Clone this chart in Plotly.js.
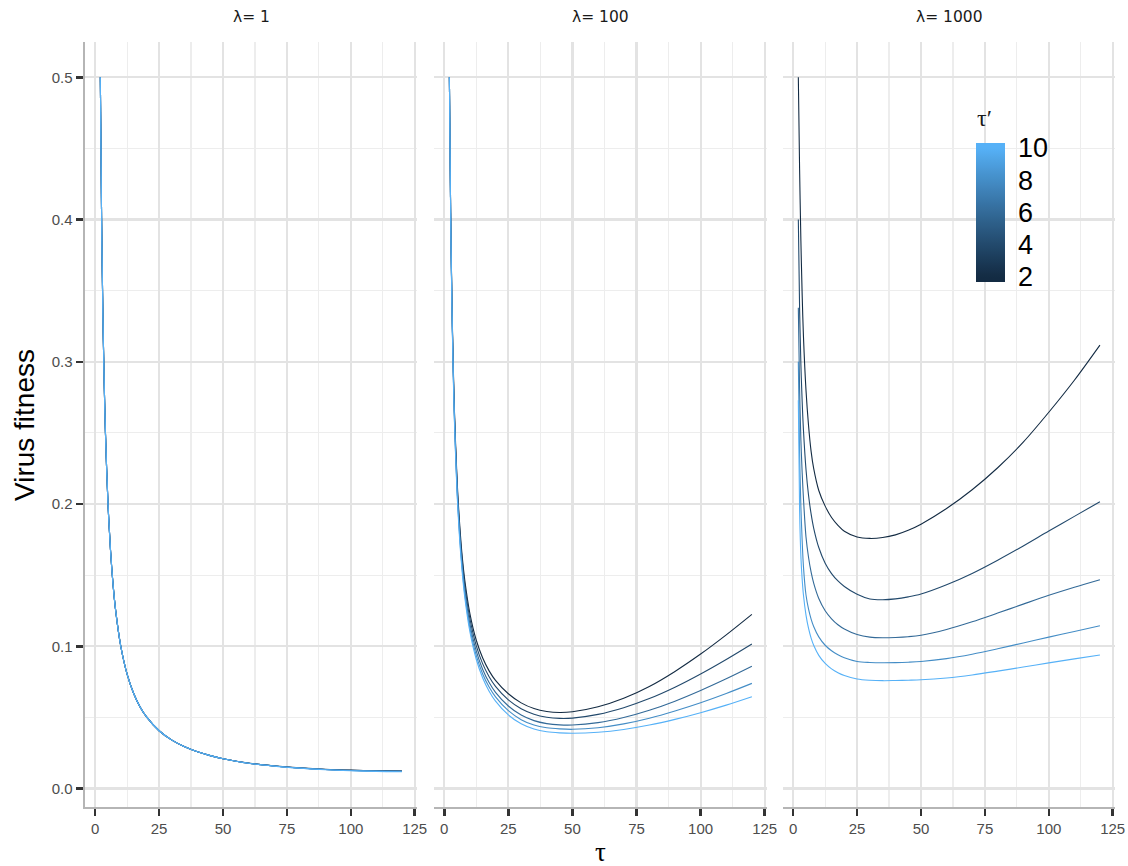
<!DOCTYPE html>
<html>
<head>
<meta charset="utf-8">
<script src="https://cdn.plot.ly/plotly-3.0.1.min.js"></script>
<style>html,body{margin:0;padding:0;background:#fff;}</style>
</head>
<body>
<div id="chart" style="width:1128px;height:866px;"></div>
<script>
// ---- data ----
const panels = ["λ= 1", "λ= 100", "λ= 1000"];
const tauPrime = [2, 4, 6, 8, 10];
const tau = [2, 2.5, 3, 3.5, 4, 5, 6, 7, 8, 10, 12.5, 15, 17.5, 20, 25, 30, 35, 40, 45, 50, 60, 70, 80, 90, 100, 110, 120];

// lambda = 1
const lam1_t2  = [0.5, 0.4, 0.333, 0.286, 0.25, 0.2, 0.167, 0.143, 0.125, 0.1, 0.0802, 0.067, 0.0575, 0.0505, 0.0406, 0.034, 0.0293, 0.0258, 0.0231, 0.0209, 0.0179, 0.0159, 0.0145, 0.0135, 0.0129, 0.0125, 0.0123];
const lam1_t4  = [0.5, 0.4, 0.333, 0.286, 0.25, 0.2, 0.167, 0.143, 0.125, 0.1, 0.0802, 0.067, 0.0575, 0.0505, 0.0406, 0.034, 0.0293, 0.0258, 0.0231, 0.0209, 0.0178, 0.0158, 0.0144, 0.0134, 0.0128, 0.0124, 0.0122];
const lam1_t6  = [0.5, 0.4, 0.333, 0.286, 0.25, 0.2, 0.167, 0.143, 0.125, 0.1, 0.0802, 0.067, 0.0575, 0.0505, 0.0406, 0.034, 0.0293, 0.0258, 0.0231, 0.0209, 0.0178, 0.0158, 0.0144, 0.0134, 0.0127, 0.0123, 0.0121];
const lam1_t8  = [0.5, 0.4, 0.333, 0.286, 0.25, 0.2, 0.167, 0.143, 0.125, 0.1, 0.0802, 0.067, 0.0575, 0.0505, 0.0406, 0.034, 0.0293, 0.0258, 0.0231, 0.0209, 0.0178, 0.0158, 0.0143, 0.0133, 0.0126, 0.0122, 0.0120];
const lam1_t10 = [0.5, 0.4, 0.333, 0.286, 0.25, 0.2, 0.167, 0.143, 0.125, 0.1, 0.0802, 0.067, 0.0575, 0.0505, 0.0406, 0.034, 0.0293, 0.0258, 0.0231, 0.0209, 0.0177, 0.0157, 0.0143, 0.0132, 0.0125, 0.0120, 0.0118];

// lambda = 100
const lam100_t2  = [0.5, 0.405, 0.342, 0.298, 0.264, 0.217, 0.186, 0.163, 0.1465, 0.123, 0.1042, 0.0917, 0.0827, 0.0760, 0.0666, 0.0602, 0.0562, 0.0541, 0.0534, 0.0539, 0.0574, 0.0634, 0.0717, 0.0823, 0.0945, 0.1080, 0.1224];
const lam100_t4  = [0.5, 0.405, 0.341, 0.296, 0.262, 0.2145, 0.1828, 0.1602, 0.1432, 0.1194, 0.1003, 0.0876, 0.0786, 0.0718, 0.0623, 0.0561, 0.0522, 0.0501, 0.0493, 0.0495, 0.0521, 0.0568, 0.0632, 0.0712, 0.0805, 0.0907, 0.1016];
const lam100_t6  = [0.5, 0.404, 0.340, 0.294, 0.260, 0.2118, 0.1798, 0.1569, 0.1397, 0.1157, 0.0965, 0.0837, 0.0745, 0.0676, 0.0580, 0.0516, 0.0477, 0.0456, 0.0447, 0.0446, 0.0463, 0.0499, 0.0550, 0.0614, 0.0689, 0.0771, 0.0859];
const lam100_t8  = [0.5, 0.403, 0.339, 0.293, 0.258, 0.2096, 0.1773, 0.1543, 0.1370, 0.1128, 0.0934, 0.0805, 0.0713, 0.0644, 0.0547, 0.0484, 0.0446, 0.0427, 0.0419, 0.0416, 0.0427, 0.0454, 0.0494, 0.0545, 0.0603, 0.0668, 0.0739];
const lam100_t10 = [0.5, 0.4025, 0.3376, 0.2912, 0.2564, 0.2076, 0.1751, 0.1520, 0.1345, 0.1102, 0.0907, 0.0777, 0.0684, 0.0614, 0.0517, 0.0455, 0.0418, 0.0399, 0.0391, 0.0388, 0.0395, 0.0415, 0.0446, 0.0486, 0.0533, 0.0586, 0.0645];

// lambda = 1000
const lam1000_t2  = [0.5, 0.435, 0.385, 0.347, 0.318, 0.28, 0.255, 0.237, 0.225, 0.2095, 0.1985, 0.1905, 0.1850, 0.1808, 0.1768, 0.1758, 0.1764, 0.1783, 0.1815, 0.1858, 0.1968, 0.2100, 0.2255, 0.2435, 0.2645, 0.2870, 0.3117];
const lam1000_t4  = [0.4, 0.337, 0.298, 0.272, 0.252, 0.2243, 0.206, 0.193, 0.1831, 0.1694, 0.1584, 0.1511, 0.1459, 0.1420, 0.1365, 0.1332, 0.1327, 0.1333, 0.1347, 0.1367, 0.1432, 0.1512, 0.1605, 0.1705, 0.1810, 0.1913, 0.2016];
const lam1000_t6  = [0.338, 0.28, 0.245, 0.222, 0.204, 0.1768, 0.1624, 0.1521, 0.1444, 0.1336, 0.1250, 0.1193, 0.1151, 0.1121, 0.1082, 0.1064, 0.1060, 0.1062, 0.1067, 0.1077, 0.1118, 0.1172, 0.1233, 0.1296, 0.1358, 0.1415, 0.1468];
const lam1000_t8  = [0.30, 0.235, 0.198, 0.174, 0.156, 0.136, 0.1261, 0.1191, 0.1139, 0.1066, 0.1007, 0.0968, 0.0940, 0.0919, 0.0893, 0.0886, 0.0884, 0.0885, 0.0888, 0.0893, 0.0913, 0.0944, 0.0982, 0.1023, 0.1064, 0.1104, 0.1144];
const lam1000_t10 = [0.273, 0.195, 0.163, 0.147, 0.136, 0.1219, 0.1125, 0.1057, 0.1007, 0.0936, 0.0879, 0.0841, 0.0814, 0.0794, 0.0770, 0.0761, 0.0758, 0.0759, 0.0761, 0.0764, 0.0777, 0.0798, 0.0825, 0.0854, 0.0883, 0.0911, 0.0938];

const seriesByPanel = [
  [lam1_t2, lam1_t4, lam1_t6, lam1_t8, lam1_t10],
  [lam100_t2, lam100_t4, lam100_t6, lam100_t8, lam100_t10],
  [lam1000_t2, lam1000_t4, lam1000_t6, lam1000_t8, lam1000_t10]
];

// ---- colour ramp (ggplot2 default gradient, interpolated in CIELAB) ----
const LOW = "#132B43", HIGH = "#56B1F7";
function hex2rgb(h){return [1,3,5].map(i=>parseInt(h.substr(i,2),16)/255);}
function lin(c){return c<=0.04045?c/12.92:Math.pow((c+0.055)/1.055,2.4);}
function delin(c){return c<=0.0031308?12.92*c:1.055*Math.pow(c,1/2.4)-0.055;}
const WP=[0.95047,1,1.08883];
function rgb2lab(rgb){
  const [r,g,b]=rgb.map(lin);
  const X=(0.4124*r+0.3576*g+0.1805*b)/WP[0];
  const Y=(0.2126*r+0.7152*g+0.0722*b)/WP[1];
  const Z=(0.0193*r+0.1192*g+0.9505*b)/WP[2];
  const f=t=>t>0.008856?Math.cbrt(t):7.787*t+16/116;
  return [116*f(Y)-16,500*(f(X)-f(Y)),200*(f(Y)-f(Z))];
}
function lab2hex(lab){
  const [L,a,bb]=lab;
  const fy=(L+16)/116, fx=fy+a/500, fz=fy-bb/200;
  const fi=t=>{const t3=t*t*t;return t3>0.008856?t3:(t-16/116)/7.787;};
  const X=fi(fx)*WP[0], Y=fi(fy)*WP[1], Z=fi(fz)*WP[2];
  let r= 3.2406*X-1.5372*Y-0.4986*Z;
  let g=-0.9689*X+1.8758*Y+0.0415*Z;
  let b= 0.0557*X-0.2040*Y+1.0570*Z;
  return "#"+[r,g,b].map(c=>{let v=Math.round(Math.min(1,Math.max(0,delin(c)))*255);return v.toString(16).padStart(2,"0");}).join("");
}
const labLo=rgb2lab(hex2rgb(LOW)), labHi=rgb2lab(hex2rgb(HIGH));
function ramp(t){t=Math.min(1,Math.max(0,t));return lab2hex(labLo.map((v,i)=>v+(labHi[i]-v)*t));}
const tpMin=2, tpMax=10;
const colourOf = v => ramp((v-tpMin)/(tpMax-tpMin));

// ---- traces ----
const traces=[];
seriesByPanel.forEach((ser,p)=>{
  ser.forEach((vals,k)=>{
    traces.push({
      type:"scatter", mode:"lines",
      x:tau, y:vals,
      xaxis: p===0?"x":"x"+(p+1), yaxis: p===0?"y":"y"+(p+1),
      line:{color:colourOf(tauPrime[k]), width:1.1, shape:"spline", smoothing:0.9},
      showlegend:false, hoverinfo:"skip"
    });
  });
});

// colourbar geometry (pixels)
const W=1128,H=866;
const CB={left:976, right:1004.5, top:143, bottom:282};
const cbMin=1.69, cbMax=10.31, cs=[];
for(let i=0;i<=40;i++){const f=i/40;cs.push([f,colourOf(cbMin+f*(cbMax-cbMin))]);}
const FONT="Liberation Sans, Arial, sans-serif";
traces.push({
  type:"scatter", mode:"markers", x:[-50,-50], y:[-1,-1], xaxis:"x3", yaxis:"y3",
  showlegend:false, hoverinfo:"skip",
  marker:{color:[tpMin,tpMax], cmin:cbMin, cmax:cbMax, colorscale:cs, opacity:0, size:1, showscale:true,
    colorbar:{x:CB.left/W, xanchor:"left", y:1-CB.top/H, yanchor:"top",
      lenmode:"pixels", len:CB.bottom-CB.top, thicknessmode:"pixels", thickness:CB.right-CB.left,
      xpad:0, ypad:0, outlinewidth:0, borderwidth:0,
      tickvals:tauPrime, ticktext:tauPrime.map(String), ticks:"outside", ticklen:8, tickwidth:1, tickcolor:"rgba(0,0,0,0)",
      tickfont:{family:FONT, size:27, color:"#000000"}}}
});
// white tick marks inside the colour bar (both edges)
const cbShapes=[];
tauPrime.forEach(v=>{
  const py=CB.bottom-(v-cbMin)/(cbMax-cbMin)*(CB.bottom-CB.top);
  const yy=1-py/H;
  [[CB.left,CB.left+5.5],[CB.right-5.5,CB.right]].forEach(([a,b])=>{
    cbShapes.push({type:"line", xref:"paper", yref:"paper", x0:a/W, x1:b/W, y0:yy, y1:yy,
      line:{color:"#ffffff", width:1.2}, layer:"above"});
  });
});

// ---- layout ----
const xDomPx=[[85,417],[434,767],[783,1115]];
const yDom=[1-806.7/H, 1-41.7/H];
const gridMajor="#E3E3E3", gridMinor="#EDEDED";
const tickFont={family:FONT, size:15, color:"#4D4D4D"};
function xaxis(i){
  return {domain:[xDomPx[i][0]/W, xDomPx[i][1]/W], range:[-4,125.9], anchor: i===0?"y":"y"+(i+1),
    tickmode:"linear", tick0:0, dtick:25, ticks:"outside", ticklen:7, tickwidth:2.5, tickcolor:"#333333",
    showline:true, linecolor:"#B5B5B5", linewidth:2.5, zeroline:false,
    showgrid:true, gridcolor:gridMajor, gridwidth:2.2,
    minor:{tick0:12.5, dtick:25, showgrid:true, gridcolor:gridMinor, gridwidth:1.2, ticks:""},
    tickfont:tickFont, fixedrange:true};
}
function yaxis(i){
  const a={domain:yDom, range:[-0.0128,0.525], anchor: i===0?"x":"x"+(i+1),
    tickmode:"linear", tick0:0, dtick:0.1, tickformat:".1f", zeroline:false,
    showgrid:true, gridcolor:gridMajor, gridwidth:2.2,
    minor:{tick0:0.05, dtick:0.1, showgrid:true, gridcolor:gridMinor, gridwidth:1.2, ticks:""},
    tickfont:tickFont, fixedrange:true};
  if(i===0){Object.assign(a,{ticks:"outside", ticklen:7, tickwidth:2.5, tickcolor:"#333333", showline:true, linecolor:"#B5B5B5", linewidth:2.5});}
  else {Object.assign(a,{ticks:"", showticklabels:false, showline:false});}
  return a;
}
const layout={width:W,height:H,margin:{l:0,r:0,t:0,b:0},paper_bgcolor:"#ffffff",plot_bgcolor:"#ffffff",
  showlegend:false, font:{family:FONT},
  xaxis:xaxis(0), xaxis2:xaxis(1), xaxis3:xaxis(2),
  yaxis:yaxis(0), yaxis2:yaxis(1), yaxis3:yaxis(2),
  shapes:cbShapes,
  annotations:[
    ...panels.map((t,i)=>({text:t, xref:"paper", yref:"paper", x:(xDomPx[i][0]+xDomPx[i][1])/2/W, y:1-17/H,
      xanchor:"center", yanchor:"middle", showarrow:false, font:{family:"DejaVu Sans, sans-serif",size:15.5,color:"#1A1A1A"}})),
    {text:"Virus fitness", xref:"paper", yref:"paper", x:24/W, y:1-425/H, textangle:-90, xanchor:"center", yanchor:"middle",
      showarrow:false, font:{family:FONT,size:28,color:"#000000"}},
    {text:"τ", xref:"paper", yref:"paper", x:600/W, y:1-852/H, xanchor:"center", yanchor:"middle",
      showarrow:false, font:{family:"Liberation Serif, serif",size:27,color:"#000000"}},
    {text:"τ′", xref:"paper", yref:"paper", x:975/W, y:1-118/H, xanchor:"left", yanchor:"middle",
      showarrow:false, font:{family:"Liberation Serif, serif",size:24,color:"#1A1A1A"}}
  ]};
Plotly.newPlot("chart",traces,layout,{displayModeBar:false,staticPlot:true});
</script>
</body>
</html>
